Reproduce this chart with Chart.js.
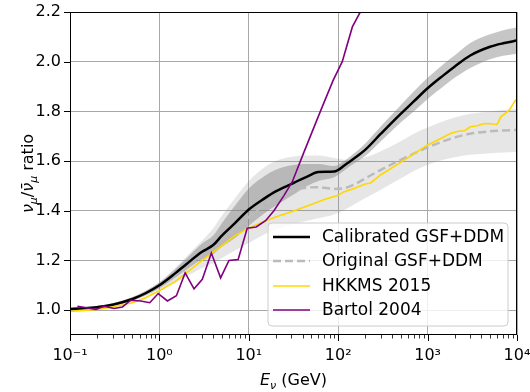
<!DOCTYPE html>
<html><head><meta charset="utf-8">
<script src="https://cdn.jsdelivr.net/npm/chart.js@4"></script>
<style>html,body{margin:0;padding:0;background:#fff}#wrap{width:530px;height:392px;position:relative}</style>
</head><body><div id="wrap"><canvas id="c" width="530" height="392"></canvas></div>
<script>
// ---- data ----
const gridE = [0.1,0.15,0.2,0.3,0.5,0.7,1,1.5,2,3,4,5,7,10,15,20,30,45,60,90,120,150,200,300,500,700,1000,1500,2000,3000,5000,7000,10000];
const calibrated = [1.005,1.008,1.012,1.022,1.045,1.068,1.10,1.148,1.185,1.235,1.262,1.30,1.35,1.405,1.45,1.478,1.508,1.537,1.556,1.558,1.585,1.61,1.645,1.71,1.79,1.84,1.893,1.945,1.98,2.025,2.06,2.074,2.085];
const calibratedHigh = [1.009,1.013,1.017,1.028,1.052,1.077,1.112,1.165,1.207,1.268,1.30,1.35,1.42,1.49,1.54,1.565,1.583,1.588,1.588,1.58,1.603,1.63,1.67,1.74,1.825,1.88,1.935,1.99,2.025,2.075,2.11,2.127,2.138];
const calibratedLow = [1.001,1.004,1.007,1.016,1.038,1.06,1.088,1.13,1.163,1.205,1.225,1.255,1.29,1.34,1.39,1.42,1.46,1.50,1.52,1.535,1.565,1.59,1.62,1.68,1.755,1.80,1.85,1.90,1.935,1.975,2.01,2.024,2.032];
const original = [1.005,1.008,1.012,1.022,1.045,1.067,1.097,1.14,1.175,1.225,1.255,1.285,1.33,1.375,1.425,1.455,1.48,1.493,1.495,1.488,1.492,1.505,1.53,1.565,1.605,1.63,1.655,1.68,1.695,1.71,1.72,1.723,1.726];
const originalHigh = [1.009,1.013,1.017,1.028,1.053,1.078,1.112,1.17,1.215,1.28,1.33,1.38,1.45,1.52,1.575,1.60,1.617,1.622,1.622,1.612,1.605,1.605,1.615,1.64,1.68,1.71,1.735,1.76,1.775,1.79,1.80,1.806,1.81];
const originalLow = [1.001,1.003,1.007,1.016,1.037,1.056,1.082,1.11,1.135,1.17,1.19,1.21,1.24,1.27,1.305,1.325,1.345,1.36,1.37,1.385,1.405,1.425,1.45,1.485,1.53,1.56,1.585,1.605,1.615,1.625,1.632,1.635,1.637];
const hkkmsE = [0.1,0.2,0.3,0.5,0.7,1,1.5,2,3,5,7,10,15,20,30,50,70,100,115,150,200,230,300,500,1000,1300,1800,2200,2600,3000,3600,4200,4800,5400,6000,6600,8200,9600,10000];
const hkkms = [0.995,1.003,1.013,1.03,1.05,1.078,1.115,1.15,1.20,1.26,1.30,1.33,1.358,1.375,1.396,1.425,1.445,1.462,1.476,1.49,1.508,1.512,1.545,1.595,1.665,1.685,1.711,1.72,1.722,1.738,1.742,1.75,1.751,1.749,1.748,1.778,1.805,1.845,1.838];
const bartolE = [0.121,0.195,0.24,0.31,0.386,0.478,0.618,0.78,0.97,1.23,1.55,1.94,2.44,3.02,3.81,4.84,6.0,7.6,9.6,12.1,15.4,19.1,24.6,30.6,41.5,64,88,111,144,175,200];
const bartol = [1.016,1.003,1.016,1.007,1.013,1.04,1.037,1.03,1.067,1.037,1.058,1.15,1.086,1.124,1.23,1.13,1.20,1.204,1.33,1.335,1.36,1.40,1.46,1.516,1.637,1.805,1.926,2.0,2.14,2.197,2.27];
const yTickValues = [1.0,1.2,1.4,1.6,1.8,2.0,2.2];
const decades = [0.1,1,10,100,1000,10000];
const decadeLabels = ['10\u207B\u00B9','10\u2070','10\u00B9','10\u00B2','10\u00B3','10\u2074'];
const seriesNames = ['Calibrated GSF+DDM','Original GSF+DDM','HKKMS 2015','Bartol 2004'];

const FONT = "'DejaVu Sans', sans-serif";
const pts = (xs, ys) => xs.map((x, i) => ({x, y: ys[i]}));
const xTicks = [];
decades.forEach(d => { for (let k = 1; k <= 9; k++) { const v = +(d * k).toPrecision(6); if (v <= 10000) xTicks.push(v); } });
const isDecade = v => decades.some(d => Math.abs(v - d) / d < 1e-6);

const band = (data, order, fill, bg) => ({data, order, fill, backgroundColor: bg, borderWidth: 0, pointRadius: 0, showLine: true, cubicInterpolationMode: 'monotone'});

const deco = {
  id: 'deco',
  afterDraw(chart) {
    const {ctx, chartArea: a, scales: {x, y}} = chart;
    ctx.save();
    ctx.strokeStyle = '#000'; ctx.lineWidth = 1;
    ctx.strokeRect(a.left + 0.5, a.top + 0.5, a.right - a.left - 1, a.bottom - a.top - 1);
    xTicks.forEach(v => {
      const px = Math.round(x.getPixelForValue(v)) + 0.5;
      const len = isDecade(v) ? 6 : 3.5;
      ctx.lineWidth = isDecade(v) ? 1 : 0.8;
      ctx.beginPath(); ctx.moveTo(px, a.bottom); ctx.lineTo(px, a.bottom + len); ctx.stroke();
    });
    yTickValues.forEach(v => {
      const py = Math.round(y.getPixelForValue(v)) + 0.5;
      ctx.lineWidth = 1;
      ctx.beginPath(); ctx.moveTo(a.left - 6, py); ctx.lineTo(a.left, py); ctx.stroke();
    });
    ctx.fillStyle = '#000';
    ctx.textBaseline = 'alphabetic';
    const cx = (a.left + a.right) / 2, by = 385;
    const parts = [['E', "oblique 16px " + FONT, 0], ['\u03BD', "oblique 11px " + FONT, 4], [' (GeV)', "16px " + FONT, 0]];
    let tw = 0; parts.forEach(p => { ctx.font = p[1]; tw += ctx.measureText(p[0]).width; });
    let xx = cx - tw / 2;
    parts.forEach(p => { ctx.font = p[1]; ctx.textAlign = 'left'; ctx.fillText(p[0], xx, by + p[2]); xx += ctx.measureText(p[0]).width; });
    ctx.save();
    ctx.translate(33, (a.top + a.bottom) / 2);
    ctx.rotate(-Math.PI / 2);
    const yp = [['\u03BD', "oblique 16px " + FONT, 0], ['\u03BC', "oblique 11px " + FONT, 4], ['/', "16px " + FONT, 0], ['\u03BD\u0304', "oblique 16px " + FONT, 0], ['\u03BC', "oblique 11px " + FONT, 4], [' ratio', "16px " + FONT, 0]];
    tw = 0; yp.forEach(p => { ctx.font = p[1]; tw += ctx.measureText(p[0]).width; });
    xx = -tw / 2;
    yp.forEach(p => { ctx.font = p[1]; ctx.textAlign = 'left'; ctx.fillText(p[0], xx, p[2]); xx += ctx.measureText(p[0]).width; });
    ctx.restore();
    const lx = 268, ly = 223, lw = 240, lh = 103, r = 4;
    ctx.beginPath();
    ctx.moveTo(lx + r, ly); ctx.lineTo(lx + lw - r, ly); ctx.quadraticCurveTo(lx + lw, ly, lx + lw, ly + r);
    ctx.lineTo(lx + lw, ly + lh - r); ctx.quadraticCurveTo(lx + lw, ly + lh, lx + lw - r, ly + lh);
    ctx.lineTo(lx + r, ly + lh); ctx.quadraticCurveTo(lx, ly + lh, lx, ly + lh - r);
    ctx.lineTo(lx, ly + r); ctx.quadraticCurveTo(lx, ly, lx + r, ly);
    ctx.closePath();
    ctx.fillStyle = 'rgba(255,255,255,0.8)'; ctx.fill();
    ctx.strokeStyle = '#cccccc'; ctx.lineWidth = 1; ctx.stroke();
    const styles = [['#000000', 2.5, []], ['#bbbbbb', 2.5, [8, 4]], ['#ffd700', 1.6, []], ['#800080', 1.6, []]];
    const rows = [237, 261, 286, 310];
    seriesNames.forEach((name, i) => {
      ctx.strokeStyle = styles[i][0]; ctx.lineWidth = styles[i][1]; ctx.setLineDash(styles[i][2]);
      ctx.beginPath(); ctx.moveTo(273, rows[i]); ctx.lineTo(310, rows[i]); ctx.stroke();
      ctx.setLineDash([]);
      ctx.fillStyle = '#000'; ctx.font = "17px " + FONT; ctx.textBaseline = 'middle'; ctx.textAlign = 'left';
      ctx.fillText(name, 322, rows[i] + 1);
    });
    ctx.restore();
  }
};

new Chart(document.getElementById('c'), {
  type: 'scatter',
  data: {
    datasets: [
      band(pts(gridE, originalLow), 20, false, 'transparent'),
      band(pts(gridE, originalHigh), 19, '-1', 'rgba(128,128,128,0.2)'),
      band(pts(gridE, calibratedLow), 18, false, 'transparent'),
      band(pts(gridE, calibratedHigh), 17, '-1', 'rgba(128,128,128,0.45)'),
      {label: seriesNames[1], data: pts(gridE, original), order: 5, showLine: true, borderColor: '#bbbbbb', borderWidth: 2.5, borderDash: [8, 4], pointRadius: 0, cubicInterpolationMode: 'monotone'},
      {label: seriesNames[0], data: pts(gridE, calibrated), order: 4, showLine: true, borderColor: '#000000', borderWidth: 2.5, pointRadius: 0, cubicInterpolationMode: 'monotone'},
      {label: seriesNames[2], data: pts(hkkmsE, hkkms), order: 3, showLine: true, borderColor: '#ffd700', borderWidth: 1.6, pointRadius: 0, tension: 0},
      {label: seriesNames[3], data: pts(bartolE, bartol), order: 2, showLine: true, borderColor: '#800080', borderWidth: 1.6, pointRadius: 0, tension: 0}
    ]
  },
  options: {
    responsive: false, animation: false, devicePixelRatio: 1,
    layout: {padding: {top: 12, right: 13, left: 0, bottom: 0}},
    plugins: {legend: {display: false}, tooltip: {enabled: false}},
    elements: {line: {borderCapStyle: 'butt'}},
    scales: {
      x: {
        type: 'logarithmic', min: 0.1, max: 10000,
        afterBuildTicks: s => { s.ticks = xTicks.map(v => ({value: v, major: isDecade(v)})); },
        afterFit: s => { s.height = 57; s.paddingLeft = 0; s.paddingRight = 0; },
        ticks: {autoSkip: false, maxRotation: 0, minRotation: 0, padding: 11, color: '#000', font: {family: FONT, size: 16},
          callback: v => { const i = decades.findIndex(d => Math.abs(v - d) / d < 1e-6); return i >= 0 ? decadeLabels[i] : ''; }},
        grid: {drawTicks: false, color: c => (c.tick && isDecade(c.tick.value)) ? '#a8a8a8' : 'rgba(0,0,0,0)', lineWidth: 1},
        border: {display: false}
      },
      y: {
        type: 'linear', min: 0.9, max: 2.2,
        afterBuildTicks: s => { s.ticks = yTickValues.map(v => ({value: v})); },
        afterFit: s => { s.width = 70; s.paddingTop = 0; s.paddingBottom = 0; },
        ticks: {padding: 9, color: '#000', font: {family: FONT, size: 16}, callback: v => v.toFixed(1)},
        grid: {drawTicks: false, color: '#a8a8a8', lineWidth: 1},
        border: {display: false}
      }
    }
  },
  plugins: [deco]
});
</script></body></html>
